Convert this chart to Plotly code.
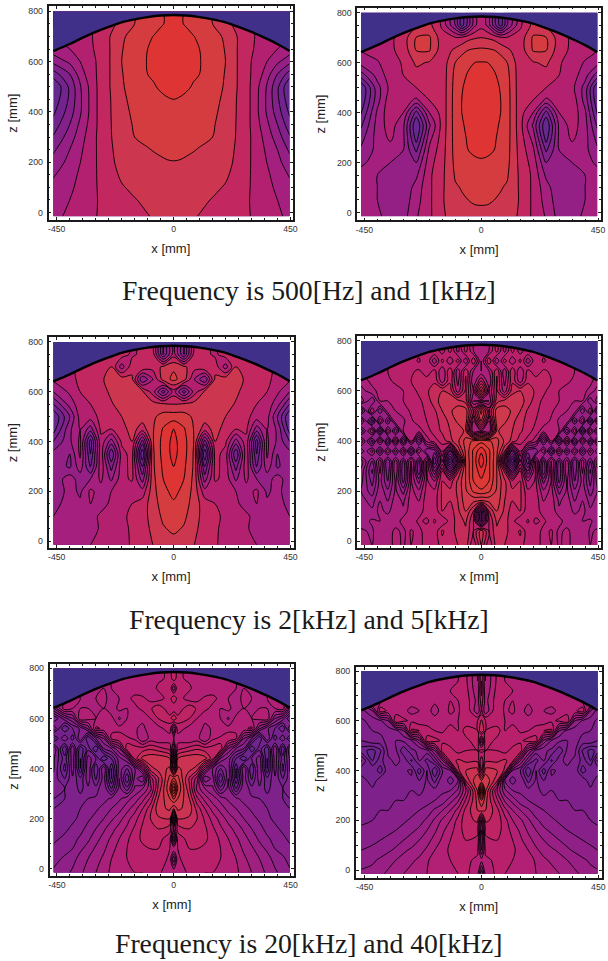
import plotly.graph_objects as go

# ---------- data (left-right symmetric, half grids) ----------
x_half_coarse = [0, 25, 50, 75, 100, 150, 200, 250, 300, 350, 400, 450]
x_half_even = [0, 40, 80, 120, 160, 200, 240, 280, 320, 360, 400, 450]
x_half_fine = [0, 30, 60, 90, 120, 150, 180, 210, 240, 270, 300, 330, 360, 390, 420, 450]
x_half_narrow = [0, 15, 60, 90, 120, 150, 180, 210, 240, 270, 300, 330, 360, 390, 420, 450]
z_rows_coarse = [-15, 50, 100, 150, 200, 250, 300, 350, 400, 450, 500, 550, 600, 650, 700, 750, 800]
z_rows_fine = [-15, 40, 80, 120, 160, 200, 240, 280, 320, 360, 400, 440, 480, 520, 560, 600, 640, 680, 720, 760, 800]

dome_x = [0, 50, 100, 150, 200, 250, 300, 350, 400, 450]
dome_z = [785, 783, 777, 768, 756, 738, 718, 695, 670, 642]

f500 = [
 [7.25,7.2,7.15,7.08,6.96,6.7,6.45,6.2,5.98,5.5,5.15,4.8],
 [7.5,7.48,7.42,7.3,7.2,6.95,6.6,6.3,5.95,5.5,5.0,4.6],
 [7.7,7.65,7.6,7.5,7.4,7.2,6.92,6.45,5.95,5.4,4.8,4.3],
 [7.85,7.8,7.75,7.65,7.55,7.35,7.15,6.6,5.95,5.3,4.6,3.9],
 [7.97,7.95,7.88,7.8,7.7,7.5,7.3,6.75,5.95,5.15,4.3,3.4],
 [8.25,8.2,8.13,8.05,7.95,7.7,7.4,6.8,5.95,5.0,4.0,2.8],
 [8.45,8.4,8.33,8.25,8.2,8.0,7.5,6.85,5.95,4.8,3.5,2.1],
 [8.6,8.55,8.5,8.45,8.35,8.1,7.6,6.85,5.9,4.5,3.0,1.4],
 [8.8,8.75,8.7,8.6,8.5,8.2,7.7,6.85,5.9,4.2,2.5,0.8],
 [9.0,8.95,8.85,8.75,8.6,8.3,7.8,6.85,5.9,4.2,2.2,0.3],
 [9.3,9.2,9.1,8.95,8.7,8.4,7.9,6.9,5.9,4.3,2.2,0.0],
 [9.45,9.4,9.3,9.1,9.0,8.45,7.95,6.9,5.95,4.8,3.0,1.5],
 [9.5,9.45,9.35,9.2,9.05,8.5,8.0,6.9,5.98,5.2,4.2,3.3],
 [9.5,9.45,9.35,9.2,9.0,8.45,7.95,6.9,6.1,5.5,5.0,4.6],
 [9.4,9.35,9.25,9.05,8.8,8.35,7.85,6.9,6.1,5.7,5.4,5.0],
 [9.2,9.1,8.9,8.6,8.3,8.0,7.3,6.7,6.1,5.7,5.4,5.0],
 [9.2,9.1,8.9,8.6,8.3,8.0,7.3,6.7,6.1,5.7,5.4,5.0],
]
f1k = [
 [7.8,7.75,7.7,7.6,7.45,6.85,5.8,4.9,3.6,3.8,4.1,4.3],
 [8.1,8.1,8.0,7.9,7.7,6.9,5.8,4.6,3.4,3.6,4.0,4.3],
 [8.3,8.25,8.2,8.05,7.9,6.85,5.8,4.4,3.2,3.5,4.0,4.3],
 [8.6,8.55,8.45,8.3,8.1,6.8,5.8,3.8,3.1,3.6,4.0,4.2],
 [8.9,8.85,8.7,8.5,8.25,6.7,5.6,3.0,3.6,4.0,4.2,3.9],
 [9.2,9.15,9.0,8.7,8.35,6.6,5.2,1.8,4.0,4.6,4.3,3.2],
 [9.4,9.3,9.1,8.8,8.4,6.5,4.6,0.5,4.2,5.2,4.4,2.6],
 [9.5,9.4,9.2,8.9,8.45,6.4,3.8,0.0,4.2,5.5,4.4,1.8],
 [9.5,9.45,9.25,9.0,8.45,6.4,5.0,1.6,5.0,5.7,4.2,0.9],
 [9.5,9.45,9.25,9.0,8.45,6.4,6.0,4.8,5.5,5.7,3.6,0.2],
 [9.4,9.35,9.2,8.95,8.4,6.4,6.5,6.0,5.9,5.3,3.6,0.0],
 [9.3,9.25,9.1,8.75,8.3,6.4,6.6,6.6,6.0,5.5,4.4,2.5],
 [9.05,9.0,8.8,8.45,8.0,6.4,6.9,7.2,6.1,5.6,4.9,4.4],
 [8.2,8.15,8.0,7.7,7.2,6.4,8.1,8.05,6.4,5.8,5.4,5.0],
 [7.0,6.9,6.7,6.2,6.1,6.4,8.15,8.05,6.5,5.8,5.4,5.0],
 [5.6,4.8,2.5,0.5,3.0,5.8,7.3,6.8,6.2,5.8,5.4,5.0],
 [5.6,4.8,2.5,0.5,3.0,5.8,7.3,6.8,6.2,5.8,5.4,5.0],
]
f2k = [
 [7.6,7.4,7.0,6.5,6.1,5.7,5.4,5.1,5.0,4.7,4.7,4.5],
 [8.2,7.9,7.2,6.6,6.1,5.8,5.3,5.1,4.7,4.6,4.4,4.2],
 [8.5,8.2,7.4,6.6,6.2,5.8,5.2,5.2,4.6,4.7,4.2,4.0],
 [8.9,8.5,7.5,6.5,6.0,5.7,5.2,4.6,5.0,4.2,4.5,3.6],
 [9.2,8.8,7.6,5.4,5.2,6.0,5.0,4.6,5.2,3.8,4.4,3.2],
 [9.6,9.0,7.7,3.5,6.2,5.6,3.8,5.2,4.0,3.4,4.6,3.2],
 [10.0,9.2,7.8,2.0,6.3,5.6,2.6,5.7,1.8,4.6,2.8,3.8],
 [10.3,9.4,7.8,0.0,6.4,5.6,1.0,5.7,1.0,5.2,3.0,3.4],
 [10.3,9.4,7.9,2.5,7.0,6.2,3.5,5.7,0.5,5.2,3.8,2.0],
 [10.0,9.1,7.9,6.5,7.4,6.6,6.0,6.2,3.5,5.0,3.8,0.5],
 [8.5,8.4,7.8,7.5,7.8,7.0,6.6,6.3,5.5,5.4,3.0,0.0],
 [7.0,7.2,7.4,8.0,7.6,7.4,6.9,6.4,6.0,5.6,4.4,2.0],
 [5.5,2.5,5.5,7.2,7.8,8.0,7.2,6.6,6.2,6.0,5.2,4.0],
 [8.3,7.4,5.0,3.0,7.2,7.6,7.5,6.8,6.0,6.2,5.7,5.2],
 [7.8,7.2,6.4,7.0,6.6,4.5,7.0,6.5,6.4,6.2,5.8,5.3],
 [5.5,2.0,6.5,6.3,5.8,6.5,6.0,6.0,5.9,5.8,5.6,5.3],
 [5.5,2.0,6.5,6.3,5.8,6.5,6.0,6.0,5.9,5.8,5.6,5.3],
]
f5k = [
 [7.0,5.5,6.8,6.5,6.0,6.3,5.6,5.9,5.2,5.5,4.9,5.2,4.7,5.0,4.5,4.6],
 [7.3,6.0,6.9,6.8,6.1,6.6,5.6,6.0,5.2,5.6,4.8,5.2,4.6,5.0,4.4,4.6],
 [3.0,6.0,7.1,6.7,6.2,5.5,6.1,5.3,5.7,5.0,5.3,4.6,5.0,4.5,4.6,4.2],
 [3.0,6.5,7.5,6.9,6.2,6.5,5.6,5.9,5.1,5.4,4.6,5.0,4.3,4.7,4.1,4.3],
 [7.4,7.6,7.8,7.0,6.5,6.6,5.7,5.8,5.0,5.3,4.4,4.8,4.0,4.5,3.8,4.2],
 [8.9,8.6,7.9,7.1,6.6,6.6,5.6,5.7,4.6,5.2,3.8,4.6,3.6,4.4,3.2,4.0],
 [9.4,9.0,8.0,7.1,6.2,6.5,5.0,5.6,3.8,5.0,2.8,4.6,3.0,4.2,2.8,4.2],
 [9.8,9.1,8.0,6.4,3.5,6.0,3.5,5.6,2.5,5.2,2.5,5.0,2.6,4.6,2.4,4.4],
 [10.4,9.1,8.0,4.0,1.0,4.5,2.0,5.5,2.8,5.2,2.8,4.8,2.5,4.8,3.0,4.8],
 [9.9,9.1,8.1,6.6,3.0,5.6,3.2,3.0,5.0,2.0,5.2,2.6,5.0,2.4,4.8,3.0],
 [8.8,8.6,8.2,7.4,6.8,6.2,5.8,5.2,2.5,5.2,2.0,5.4,2.0,5.0,2.2,5.0],
 [5.0,4.5,7.6,7.2,7.0,6.6,6.2,5.8,5.2,5.2,5.0,2.5,5.0,1.5,5.0,2.5],
 [7.6,5.0,7.8,7.6,7.2,6.6,6.4,6.0,5.8,5.4,4.9,5.0,2.8,5.0,1.8,4.8],
 [8.2,6.0,7.8,7.8,7.4,7.0,6.4,6.1,5.8,5.6,5.2,5.0,4.8,3.0,5.0,2.0],
 [4.5,4.5,6.8,7.2,7.4,7.2,6.8,6.2,5.9,5.7,5.5,5.2,5.0,5.0,3.5,4.8],
 [7.8,5.0,6.6,5.2,6.8,7.0,6.8,6.4,6.1,5.8,5.5,5.3,5.3,5.1,4.9,4.2],
 [6.0,4.5,6.6,4.8,6.4,5.2,6.4,6.3,6.2,6.0,5.8,5.6,5.4,5.3,5.1,4.8],
 [4.5,5.0,6.4,4.6,6.5,5.0,6.2,5.6,6.1,5.9,5.8,5.6,5.5,5.3,5.2,5.0],
 [4.5,6.5,4.5,6.3,5.0,6.2,4.6,6.0,5.4,5.8,5.6,5.6,5.4,5.3,5.2,5.0],
 [5.0,5.0,6.2,4.8,6.2,5.2,6.0,5.8,5.7,5.6,5.5,5.4,5.3,5.2,5.1,5.0],
 [5.0,5.0,6.2,4.8,6.2,5.2,6.0,5.8,5.7,5.6,5.5,5.4,5.3,5.2,5.1,5.0],
]
f20k = [
 [5.5,5.2,5.6,5.6,5.5,5.5,5.4,5.3,5.1,4.8,4.5,4.2,3.9,3.6,3.3,3.1],
 [3.5,5.4,5.8,5.8,5.7,5.6,5.5,5.3,5.0,4.6,4.3,4.0,3.7,3.3,3.1,2.8],
 [5.5,5.5,6.0,6.0,5.9,5.7,5.5,5.2,4.8,4.4,4.1,3.7,3.4,3.0,2.8,2.6],
 [3.0,5.7,6.2,6.2,6.1,5.8,5.4,5.0,4.6,4.2,3.8,3.4,3.1,2.8,2.6,2.4],
 [5.0,6.2,6.5,6.4,6.1,5.6,5.1,4.7,4.3,3.9,3.5,3.2,2.8,2.6,2.4,2.2],
 [3.0,7.0,6.9,6.5,5.9,5.3,4.8,4.3,3.9,3.5,3.2,2.9,2.6,2.4,2.3,2.1],
 [7.0,7.6,7.3,6.3,5.5,4.8,4.3,3.8,3.5,3.2,2.9,2.7,2.5,2.3,2.2,2.0],
 [8.6,8.0,7.0,5.6,4.8,4.2,3.8,3.4,3.1,2.8,2.6,2.5,2.2,2.2,2.0,2.0],
 [10.5,8.5,6.6,4.8,4.0,3.6,2.2,3.2,1.5,3.0,2.2,2.4,1.8,2.4,2.0,2.2],
 [8.6,8.2,6.4,5.2,2.5,3.2,1.0,3.0,0.5,2.8,1.4,2.8,1.6,2.4,1.5,2.3],
 [5.0,7.6,7.2,6.8,4.6,3.0,2.0,2.8,0.5,3.0,1.0,3.0,0.5,2.8,0.8,2.6],
 [4.0,7.0,7.4,7.4,7.2,6.2,3.5,2.8,1.5,0.5,2.0,2.8,0.5,2.8,1.2,2.6],
 [4.0,5.8,6.2,6.4,6.2,6.2,6.4,4.0,3.0,2.5,0.5,1.8,0.6,3.0,0.5,3.0],
 [5.0,5.2,5.0,5.2,4.5,5.4,5.6,6.0,5.6,3.5,2.5,1.0,3.0,1.2,2.5,0.8],
 [4.0,5.8,5.3,5.4,4.8,5.1,5.1,5.2,5.4,5.4,5.6,3.6,2.6,2.0,1.0,3.0],
 [7.0,6.2,6.0,5.5,5.2,5.3,5.0,4.4,5.2,5.1,5.0,5.2,5.4,3.5,2.8,1.5],
 [5.5,5.6,6.4,5.9,5.6,5.4,5.0,5.2,4.6,5.0,4.8,5.0,5.0,5.0,5.3,3.5],
 [6.5,5.8,5.2,5.3,5.6,5.6,5.4,5.0,4.7,5.2,5.0,4.6,5.0,5.2,5.0,5.0],
 [4.5,6.0,5.6,5.2,5.1,5.3,5.3,5.2,5.0,5.0,5.0,5.0,5.0,5.0,5.0,5.0],
 [6.5,5.6,5.4,5.2,5.2,5.2,5.2,5.1,5.0,5.0,5.0,5.0,5.0,5.0,5.0,5.0],
 [6.5,5.6,5.4,5.2,5.2,5.2,5.2,5.1,5.0,5.0,5.0,5.0,5.0,5.0,5.0,5.0],
]
f40k = [
 [3.5,5.2,5.6,5.5,5.4,5.3,5.2,5.0,4.8,4.7,4.5,4.3,4.1,3.9,3.7,3.6],
 [5.2,5.4,5.6,5.6,5.5,5.5,5.3,4.9,4.6,4.4,4.2,4.0,3.8,3.6,3.4,3.3],
 [4.0,5.6,5.8,5.7,5.6,5.3,5.0,4.6,4.3,4.1,3.9,3.6,3.4,3.2,3.1,3.0],
 [3.5,5.9,6.0,5.9,5.5,5.1,4.7,4.3,4.0,3.7,3.5,3.3,3.1,3.0,2.9,2.8],
 [4.0,6.1,6.2,5.8,5.3,4.9,4.4,4.0,3.6,3.4,3.2,3.0,2.9,2.8,2.7,2.6],
 [4.5,6.6,6.3,5.7,5.0,4.6,4.1,3.6,3.3,3.1,2.9,2.8,2.6,2.6,2.5,2.4],
 [7.2,7.0,6.2,5.2,4.5,4.0,3.6,3.2,3.0,2.8,2.7,2.6,2.5,2.5,2.4,2.3],
 [8.0,7.2,5.6,4.4,3.8,3.2,3.0,2.8,2.6,2.8,2.5,2.5,2.4,2.5,2.4,2.3],
 [10.6,7.6,5.0,3.6,3.0,2.9,2.7,2.6,2.4,2.5,2.3,2.5,2.3,2.3,2.2,2.2],
 [7.5,8.0,6.6,3.0,2.2,3.0,1.8,2.6,2.0,2.4,2.4,2.2,2.3,2.4,1.6,2.4],
 [5.5,7.2,7.0,6.4,3.0,2.5,1.0,2.5,1.2,2.6,2.4,2.4,2.4,1.2,2.0,1.6],
 [5.0,6.4,6.4,6.6,6.2,4.0,2.6,1.8,2.6,1.4,2.4,2.6,2.4,1.8,1.0,2.6],
 [6.2,6.0,6.0,5.8,6.2,6.3,4.0,2.8,2.6,2.4,1.6,2.6,2.6,1.4,0.8,1.2],
 [4.0,6.4,5.8,5.6,5.7,5.9,6.2,6.3,3.8,2.9,2.6,2.5,2.7,2.3,2.4,2.0],
 [7.0,6.0,6.3,5.5,5.8,5.4,5.5,5.7,6.0,6.1,3.5,2.8,2.7,2.6,2.5,2.2],
 [6.6,6.0,5.6,5.5,5.3,5.4,5.2,5.3,5.2,5.4,5.6,6.0,3.5,2.9,2.7,2.4],
 [5.6,4.6,6.0,5.4,5.6,5.2,4.8,5.2,5.0,4.8,5.2,5.2,5.4,5.8,3.5,2.8],
 [5.8,4.8,5.8,5.5,5.5,5.5,5.1,5.3,5.2,5.3,5.2,5.0,5.2,5.0,5.5,4.0],
 [6.2,4.6,5.7,5.6,5.5,5.4,5.4,5.3,5.3,5.2,5.2,5.2,5.1,5.1,5.1,5.0],
 [6.0,4.5,5.6,5.5,5.5,5.4,5.4,5.3,5.3,5.2,5.2,5.1,5.1,5.0,5.0,5.0],
 [6.0,4.5,5.6,5.5,5.5,5.4,5.4,5.3,5.3,5.2,5.2,5.1,5.1,5.0,5.0,5.0],
]

x_tick_values = [-450, 0, 450]
z_tick_values = [0, 200, 400, 600, 800]
captions = ["Frequency is 500[Hz] and 1[kHz]", "Frequency is 2[kHz] and 5[kHz]", "Frequency is 20[kHz] and 40[kHz]"]

# ---------- styling / layout ----------
W, H = 608, 961
band_colors = ["#5e2a8e", "#6b258f", "#7a218c", "#8b2088", "#9c2084", "#ad2078",
               "#bb2068", "#c83055", "#d03c48", "#da3c38", "#e22b30"]
colorscale = [[i / 10, c] for i, c in enumerate(band_colors)]
DOME = "#41308a"
S = 0.2622            # px per mm along x
XL, XR = -463, 447    # left/right data edge

# grid, cols, rows, level step, frame L,R,T,B ; x=0 px ; z=800 px ; z=0 px
panels = [
    (f500, x_half_coarse, z_rows_coarse, 1.0, 48, 295, 5.5, 219, 174.3, 10.3, 211.7),
    (f1k,  x_half_coarse, z_rows_coarse, 1.0, 359.7, 606, 6.7, 219.7, 485, 11.7, 211.7),
    (f2k,  x_half_even,   z_rows_coarse, 1.0, 48, 295.5, 336.7, 547.7, 174.3, 341.3, 540.7),
    (f5k,  x_half_fine,   z_rows_fine,   0.5, 359.7, 606, 335.7, 547.7, 485, 340.3, 540.7),
    (f20k, x_half_narrow, z_rows_fine,   0.5, 49, 296, 664, 876, 174.5, 668, 868.7),
    (f40k, x_half_narrow, z_rows_fine,   0.5, 358.3, 606.7, 666.7, 878, 485.3, 670.7, 870),
]

def mirror_x(h):
    out = [-v for v in h[:0:-1]] + list(h)
    out[0], out[-1] = XL, XR
    return out

fig = go.Figure()
layout = {}
for i, (vals, xh, zr, step, L, R, T, B, x0, z800, z0) in enumerate(panels, start=1):
    assert len(vals) == len(zr) and all(len(r) == len(xh) for r in vals)
    xa, ya = f"x{i}", f"y{i}"
    grid = [r[:0:-1] + r for r in vals]
    fig.add_trace(go.Contour(
        x=mirror_x(xh), y=zr, z=grid, xaxis=xa, yaxis=ya, zmin=0, zmax=10, showscale=False,
        colorscale=colorscale, autocontour=False,
        contours=dict(start=0, end=11, size=step, coloring="fill"),
        line=dict(color="black", width=0.9, smoothing=0.9), hoverinfo="skip"))
    dx = [-v for v in dome_x[:0:-1]] + dome_x
    dz = dome_z[:0:-1] + dome_z
    dx[0], dx[-1] = XL, XR
    fig.add_trace(go.Scatter(
        x=dx + [XR, XL], y=dz + [800, 800], xaxis=xa, yaxis=ya, mode="lines", fill="toself",
        fillcolor=DOME, line=dict(width=0), hoverinfo="skip", showlegend=False))
    fig.add_trace(go.Scatter(
        x=dx, y=dz, xaxis=xa, yaxis=ya, mode="lines", line=dict(color="black", width=2.4, shape="spline"),
        hoverinfo="skip", showlegend=False))
    zs = 800 / (z0 - z800)
    common = dict(showgrid=False, zeroline=False, showline=True, linecolor="#1a1a1a", linewidth=1.5,
                  mirror="allticks", ticks="inside", ticklen=3, tickcolor="#1a1a1a", tickwidth=1)
    suffix = "" if i == 1 else i
    layout[f"xaxis{suffix}"] = dict(
        common, anchor=ya, domain=[L / W, R / W], range=[(L - x0) / S, (R - x0) / S],
        tickmode="array", tickvals=x_tick_values, ticktext=[str(v) for v in x_tick_values],
        tickfont=dict(family="Liberation Sans", size=8.7, color="#333333"),
        minor=dict(dtick=50, ticks="inside", ticklen=2, tickcolor="#1a1a1a"),
        title=dict(text="x [mm]", font=dict(family="Liberation Sans", size=13, color="#222222"), standoff=11))
    layout[f"yaxis{suffix}"] = dict(
        common, anchor=xa, domain=[1 - B / H, 1 - T / H], range=[-(B - z0) * zs, 800 + (z800 - T) * zs],
        tickmode="array", tickvals=z_tick_values, ticktext=[str(v) for v in z_tick_values],
        tickfont=dict(family="Liberation Sans", size=8.8, color="#333333"), ticklabelstandoff=2,
        minor=dict(dtick=50, ticks="inside", ticklen=2, tickcolor="#1a1a1a"),
        title=dict(text="z [mm]", font=dict(family="Liberation Sans", size=13, color="#222222"), standoff=8))

annotations = [dict(text=t, x=311 / W, y=1 - yy / H, xref="paper", yref="paper", showarrow=False,
                    xanchor="center", yanchor="middle",
                    font=dict(family="Liberation Serif", size=27.7, color="#1a1a1a"))
               for t, yy in zip(captions, [290, 619, 943])]

fig.update_layout(width=W, height=H, margin=dict(l=0, r=0, t=0, b=0), autosize=False,
                  paper_bgcolor="white", plot_bgcolor="white", showlegend=False,
                  annotations=annotations, **layout)
fig.write_html("out.html", config=dict(displayModeBar=False),
               post_script="document.body.style.margin='0';document.body.style.overflow='hidden';")
